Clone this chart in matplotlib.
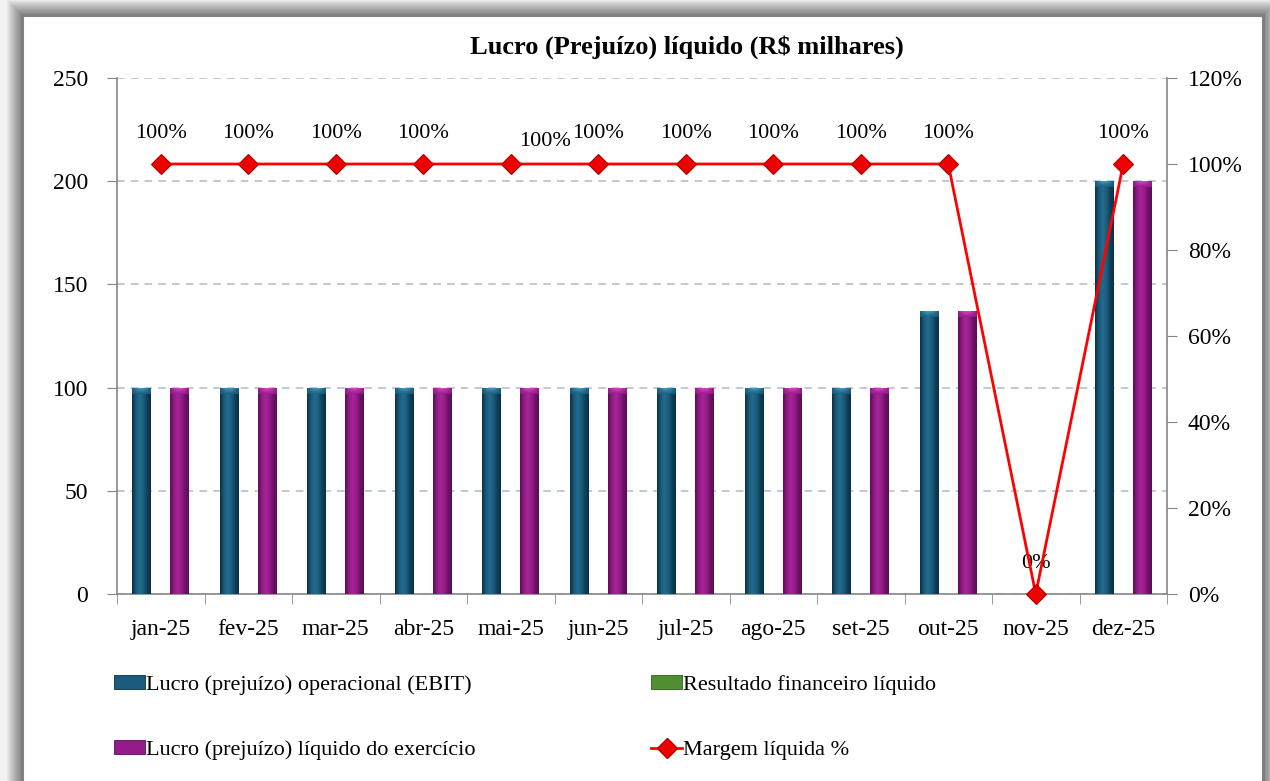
import matplotlib.pyplot as plt
import numpy as np
from matplotlib.colors import LinearSegmentedColormap
from matplotlib.patches import Rectangle
from matplotlib.lines import Line2D
from matplotlib.ticker import PercentFormatter

plt.rcParams['font.family'] = ['Liberation Serif', 'DejaVu Serif']

# ── Dados (R$ milhares) ───────────────────────────────────────────────────────
meses = ['jan-25', 'fev-25', 'mar-25', 'abr-25', 'mai-25', 'jun-25',
         'jul-25', 'ago-25', 'set-25', 'out-25', 'nov-25', 'dez-25']
ebit = [100, 100, 100, 100, 100, 100, 100, 100, 100, 137, 0, 200]
resultado_fin = [0, 0, 0, 0, 0, 0, 0, 0, 0, 0, 0, 0]
lucro_liquido = [100, 100, 100, 100, 100, 100, 100, 100, 100, 137, 0, 200]
margem = [1.0, 1.0, 1.0, 1.0, 1.0, 1.0, 1.0, 1.0, 1.0, 1.0, 0.0, 1.0]

W, H = 1270, 781
fig = plt.figure(figsize=(W / 100, H / 100), dpi=100)
fig.patch.set_facecolor('#f2f2f2')

# moldura do gráfico com sombra suave
bx0, bx1, by1 = 22, 1263, 15
for i in range(1, 16):
    fig.patches.append(Rectangle(((bx0 - i) / W, (H - by1 - 800) / H),
                                 (bx1 - bx0 + 2 * i) / W, (800 + i) / H,
                                 transform=fig.transFigure, facecolor='black',
                                 edgecolor='none', alpha=0.035, zorder=0))
fig.patches.append(Rectangle((bx0 / W, -0.1), (bx1 - bx0) / W, (H - by1) / H + 0.1,
                             transform=fig.transFigure, facecolor='white',
                             edgecolor='#7f7f7f', linewidth=2.2, zorder=1))

ax = fig.add_axes([117 / W, 1 - 594 / H, (1167 - 117) / W, (594 - 78) / H])
ax.set_zorder(2)
ax.patch.set_alpha(0)

x = np.arange(len(meses))
bw = 0.217

cm_ebit = LinearSegmentedColormap.from_list(
    'ebit', ['#0a2f45', '#185a79', '#236c8e', '#1c5e7e', '#10425b', '#0a2f45'])
cm_liq = LinearSegmentedColormap.from_list(
    'liq', ['#5a0c55', '#8f1b83', '#a82498', '#971d8a', '#701268', '#5a0c55'])

b1 = ax.bar(x - bw, ebit, bw, color='#1b5c7c', linewidth=0, zorder=3)
b2 = ax.bar(x, resultado_fin, bw, color='#4f8f32', linewidth=0, zorder=3)
b3 = ax.bar(x + bw, lucro_liquido, bw, color='#951c88', linewidth=0, zorder=3)


def sombrear(rects, cmap, topo):
    grad = np.linspace(0, 1, 64).reshape(1, -1)
    cap_grad = np.linspace(1, 0, 16).reshape(-1, 1) * np.sin(np.linspace(0, np.pi, 64))
    for r in rects:
        x0, y0, w, h = r.get_x(), r.get_y(), r.get_width(), r.get_height()
        if h <= 0:
            continue
        im = ax.imshow(grad, extent=(x0, x0 + w, y0, y0 + h), cmap=cmap,
                       aspect='auto', interpolation='bicubic', zorder=3.1)
        im.set_clip_path(r)
        # brilho no topo da barra
        cap = ax.imshow(cap_grad, extent=(x0, x0 + w, y0 + h - 3.0, y0 + h),
                        cmap=LinearSegmentedColormap.from_list('c', topo),
                        alpha=0.85, aspect='auto', interpolation='bicubic', zorder=3.2)
        cap.set_clip_path(r)


sombrear(b1, cm_ebit, ['#1c5e7e', '#4fb0d6'])
sombrear(b3, cm_liq, ['#971d8a', '#ee55de'])

ax.set_xlim(-0.5, len(meses) - 0.5)
ax.set_ylim(0, 250)
ax.set_yticks(np.arange(0, 251, 50))
ax.set_xticks(x)
ax.set_xticklabels(meses)
ax.set_xticks(np.arange(-0.5, len(meses), 1), minor=True)
ax.tick_params(axis='x', which='major', length=0, pad=18, labelsize=17)
ax.tick_params(axis='x', which='minor', length=7, color='#868686', direction='out')
ax.tick_params(axis='y', length=7, color='#868686', pad=14, labelsize=17)
ax.yaxis.grid(True, linestyle=(0, (5, 4)), color='#a9bccf', linewidth=1.1)
ax.set_axisbelow(True)
for s in ['left', 'bottom']:
    ax.spines[s].set_color('#868686')
    ax.spines[s].set_linewidth(1.2)
ax.spines['top'].set_visible(False)
ax.spines['right'].set_visible(False)

# margem líquida no eixo secundário
ax2 = ax.twinx()
ax2.set_zorder(4)
ax2.patch.set_alpha(0)
ax2.plot(x, margem, color='#ff0000', linewidth=2, marker='D', markersize=10,
         markerfacecolor='#ee0000', markeredgecolor='#b00000', markeredgewidth=0.8,
         clip_on=False, zorder=5)
ax2.set_ylim(0, 1.2)
ax2.set_yticks(np.arange(0, 1.21, 0.2))
ax2.yaxis.set_major_formatter(PercentFormatter(1.0, decimals=0))
ax2.tick_params(axis='y', length=7, color='#868686', pad=8, labelsize=17)
ax2.spines['right'].set_color('#868686')
ax2.spines['right'].set_linewidth(1.2)
for s in ['top', 'left', 'bottom']:
    ax2.spines[s].set_visible(False)

for i, v in enumerate(margem):
    dx, dy = (34, 22) if meses[i] == 'mai-25' else (0, 30)
    ax2.annotate(f'{v:.0%}', (x[i], v), textcoords='offset points',
                 xytext=(dx * 0.72, dy * 0.72), ha='center', va='center', fontsize=16)

fig.text(687 / W, 1 - 47 / H, 'Lucro (Prejuízo) líquido (R$ milhares)',
         ha='center', va='center', fontsize=19, fontweight='bold')

# legenda em duas colunas
h_ebit = Rectangle((0, 0), 1, 1, facecolor='#1b5c7c', edgecolor='#0a2f45', linewidth=0.6)
h_liq = Rectangle((0, 0), 1, 1, facecolor='#951c88', edgecolor='#5a0c55', linewidth=0.6)
h_fin = Rectangle((0, 0), 1, 1, facecolor='#4f8f32', edgecolor='#2e5e1c', linewidth=0.6)
h_marg = Line2D([], [], color='#ff0000', linewidth=2, marker='D', markersize=10,
                markerfacecolor='#ee0000', markeredgecolor='#b00000')

leg_kw = dict(frameon=False, fontsize=16, handlelength=1.4, handleheight=0.55,
              handletextpad=0.05, labelspacing=2.05, borderaxespad=0, loc='upper left',
              borderpad=0)
leg1 = fig.legend([h_ebit, h_liq], ['Lucro (prejuízo) operacional (EBIT)',
                                    'Lucro (prejuízo) líquido do exercício'],
                  bbox_to_anchor=(114 / W, 1 - 675 / H), **leg_kw)
leg2 = fig.legend([h_fin, h_marg], ['Resultado financeiro líquido', 'Margem líquida %'],
                  bbox_to_anchor=(651 / W, 1 - 675 / H), **leg_kw)
leg1.set_zorder(5)
leg2.set_zorder(5)

fig.savefig('out.png', dpi=100, facecolor=fig.get_facecolor())
